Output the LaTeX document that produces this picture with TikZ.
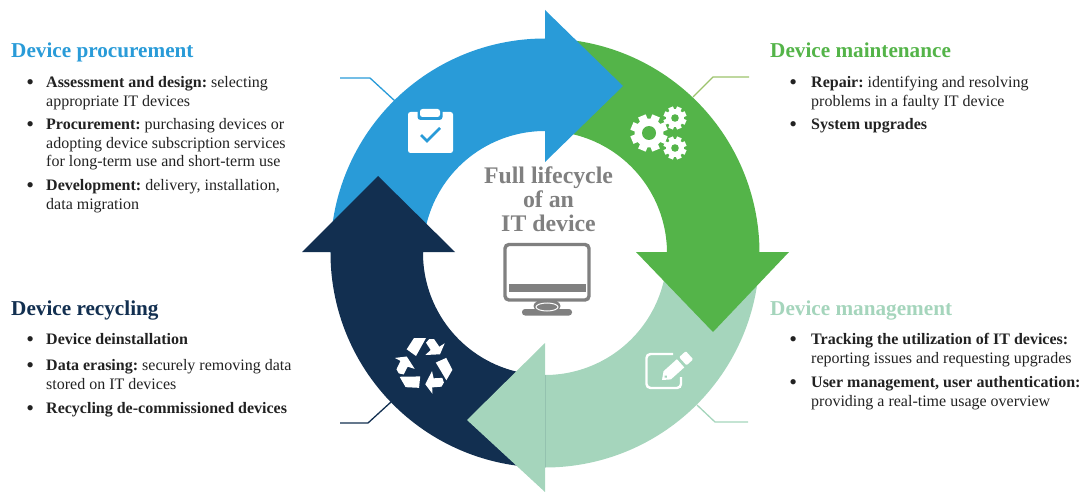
\documentclass[tikz,border=0pt]{standalone}
\usepackage{fontspec}
\setmainfont{Liberation Serif}
\usetikzlibrary{calc, positioning}

\definecolor{procblue}{HTML}{299BD8}
\definecolor{maintgreen}{HTML}{54B449}
\definecolor{mgmtmint}{HTML}{A5D5BC}
\definecolor{recnavy}{HTML}{122F50}
\definecolor{lifegrey}{HTML}{808080}
\definecolor{bodyink}{HTML}{222222}
\definecolor{leafgreen}{HTML}{9CC36C}

% bullet hung left of the first line
\newcommand{\itemmark}[1][12.2pt]{\llap{{\fontsize{22}{22}\selectfont\raisebox{-2.1pt}{\textbullet}}\hspace{#1}}\rule{0pt}{11pt}}
% quarter of the ring: colour, start angle, end angle
\newcommand{\ringband}[3]{\fill[#1] ($(ctr)+(#2:214.5pt)$) arc[start angle=#2, end angle=#3, radius=214.5pt] -- ($(ctr)+(#3:122pt)$) arc[start angle=#3, end angle=#2, radius=122pt] -- cycle;}
% gear: x, y, outer radius, hole radius
\newcommand{\gearicon}[4]{
    \foreach \a in {0,45,...,315} {
        \fill[white, shift={(#1,#2)}, rotate=\a+22.5] (-0.22*#3,0) rectangle (0.22*#3,#3);
    }
    \fill[white] (#1,#2) circle[radius=0.78*#3 pt];
    \fill[maintgreen] (#1,#2) circle[radius=#4 pt];
}

\begin{document}
\begin{tikzpicture}[
        x=1pt, y=-1pt,
        sectitle/.style={anchor=base west, inner sep=0pt, font=\bfseries\fontsize{21.2}{24}\selectfont},
        bullettext/.style={anchor=north west, inner sep=0pt, align=left, text=bodyink, font=\fontsize{16}{18.8}\selectfont\frenchspacing},
        leader/.style={line width=1.3pt}
    ]
        \useasboundingbox (0,0) rectangle (1082,492);
        \coordinate (ctr) at (545,253);

        % Ring (each band runs on a little under the next head)
        \ringband{procblue}{180}{88}
        \ringband{maintgreen}{90}{-2}
        \ringband{mgmtmint}{0}{-92}
        \ringband{recnavy}{-90}{-182}

        % Arrow heads
        \fill[procblue] (545,10) -- (623,86) -- (545,162) -- cycle;
        \fill[maintgreen] (636,252) -- (713,332) -- (789,252) -- cycle;
        \fill[mgmtmint] (545,343) -- (467,420) -- (545,492) -- cycle;
        \fill[recnavy] (302,252) -- (378,176) -- (455,252) -- cycle;

        % Leaders
        \coordinate (procA) at (340,78);
        \coordinate (procB) at (370,78);
        \coordinate (procC) at (395,101);
        \draw[leader, procblue] (procA) -- (procB) -- (procC);
        \coordinate (maintA) at (749,77);
        \coordinate (maintB) at (713,77);
        \coordinate (maintC) at (693,97);
        \draw[leader, leafgreen] (maintA) -- (maintB) -- (maintC);
        \coordinate (recA) at (340,423);
        \coordinate (recB) at (368,423);
        \coordinate (recC) at (391,402);
        \draw[leader, recnavy] (recA) -- (recB) -- (recC);
        \coordinate (mgmtA) at (748,422);
        \coordinate (mgmtB) at (715,422);
        \coordinate (mgmtC) at (697,405);
        \draw[leader, mgmtmint] (mgmtA) -- (mgmtB) -- (mgmtC);

        % Clipboard
        \fill[white, rounded corners=2.5pt] (408,112) rectangle (453,153);
        \fill[procblue, rounded corners=3pt] (417.5,106) rectangle (442.5,120);
        \fill[white, rounded corners=2.5pt] (420,109) rectangle (440,117);
        \draw[procblue, line width=2.8pt] (421,135) -- (427,141) -- (440,128);

        % Gears
        \gearicon{649}{133}{18.5}{7}
        \gearicon{675}{118}{11.5}{3.8}
        \gearicon{675}{148}{11.5}{3.8}

        % Pencil
        \draw[white, line width=2.4pt, rounded corners=4pt] (673,354) -- (646.5,354) -- (646.5,388) -- (681,388) -- (681,377);
        \begin{scope}[shift={(662,380)}, rotate=42]
            \fill[white] (0,0) -- (7,-5.5) -- (25,-5.5) -- (25,5.5) -- (7,5.5) -- cycle;
            \fill[white, rounded corners=1pt] (28,-5.5) rectangle (37,5.5);
            \fill[mgmtmint] (5,0) circle[radius=1.5pt];
        \end{scope}

        % Recycling arrows
        \foreach \a in {0,120,240} {
            \begin{scope}[shift={(424,365)}, rotate=\a]
                \fill[white] (-17.3,-15.7) -- (-10,-27) -- (2,-27) -- (-8,-9) -- cycle;
                \fill[white] (2,-22.3) -- (5.3,-26) -- (10,-26) -- (15.3,-18.3) -- (20.7,-21.7) -- (16,-10.7) -- (1.3,-10) -- (6.7,-15) -- cycle;
            \end{scope}
        }

        % Monitor
        \draw[lifegrey, line width=3.4pt, rounded corners=4pt] (505,244.5) rectangle (589,300);
        \fill[lifegrey] (509,284) rectangle (586,292);
        \fill[lifegrey, rounded corners=3pt] (522,309) rectangle (572,315.5);
        \fill[lifegrey] (547,306) ellipse[x radius=13.5pt, y radius=7pt];
        \draw[white, line width=1pt] (547,307) ellipse[x radius=11pt, y radius=4pt];

        \node[font=\bfseries\fontsize{23.8}{24}\selectfont, text=lifegrey, align=center, inner sep=0pt] (lifecycle) at (548.5,199) {Full lifecycle\\of an\\IT device};

        % Device procurement
        \node[sectitle, text=procblue] (proctitle) at (11,57.5) {Device procurement};
        \node[bullettext] (procone) at (46,76) {\itemmark\textbf{Assessment and design:} selecting\\appropriate IT devices};
        \node[bullettext] (proctwo) at (46,118) {\itemmark\textbf{Procurement:} purchasing devices or\\adopting device subscription services\\for long-term use and short-term use};
        \node[bullettext] (procthree) at (46,179) {\itemmark\textbf{Development:} delivery, installation,\\data migration};

        % Device maintenance
        \node[sectitle, text=maintgreen] (mainttitle) at (770,57.5) {Device maintenance};
        \node[bullettext] (maintone) at (811,76) {\itemmark[14.2pt]\textbf{Repair:} identifying and resolving\\problems in a faulty IT device};
        \node[bullettext] (mainttwo) at (811,118.5) {\itemmark[14.2pt]\textbf{System upgrades}};

        % Device recycling
        \node[sectitle, text=recnavy] (rectitle) at (11,315.5) {Device recycling};
        \node[bullettext] (recone) at (46,333.5) {\itemmark\textbf{Device deinstallation}};
        \node[bullettext] (rectwo) at (46,359.5) {\itemmark\textbf{Data erasing:} securely removing data\\stored on IT devices};
        \node[bullettext] (recthree) at (46,402.5) {\itemmark\textbf{Recycling de-commissioned devices}};

        % Device management
        \node[sectitle, text=mgmtmint] (mgmttitle) at (770,315.5) {Device management};
        \node[bullettext] (mgmtone) at (811,333) {\itemmark[14.2pt]\textbf{Tracking the utilization of IT devices:}\\reporting issues and requesting upgrades};
        \node[bullettext] (mgmttwo) at (811,376) {\itemmark[14.2pt]\textbf{User management, user authentication:}\\providing a real-time usage overview};
    \end{tikzpicture}
\end{document}
